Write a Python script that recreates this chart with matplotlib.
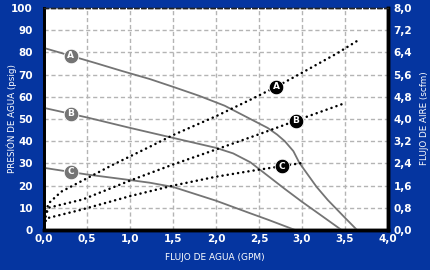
import matplotlib
matplotlib.use('Agg')
import matplotlib.pyplot as plt
import numpy as np

# ---- data ----
x_ticks = [0.0, 0.5, 1.0, 1.5, 2.0, 2.5, 3.0, 3.5, 4.0]
p_ticks = [0, 10, 20, 30, 40, 50, 60, 70, 80, 90, 100]
air_ticks = [0.0, 0.8, 1.6, 2.4, 3.2, 4.0, 4.8, 5.6, 6.4, 7.2, 8.0]

# water pressure (psig) vs water flow (GPM)
pA_x = [0.0, 0.3, 0.6, 0.9, 1.23, 1.5, 1.8, 2.1, 2.4, 2.6, 2.71, 2.8, 2.9, 2.97, 3.17, 3.3, 3.5, 3.64]
pA_y = [82, 78.6, 75.2, 71.7, 68, 64.5, 60.5, 56, 50, 46, 43, 40, 35.5, 30.2, 19.4, 13.5, 5.5, 0]
pB_x = [0.0, 0.5, 1.0, 1.5, 2.0, 2.2, 2.4, 2.6, 2.8, 3.0, 3.2, 3.46]
pB_y = [55, 50.7, 46, 41.5, 37, 34.5, 30.5, 24.5, 18.5, 12.7, 7.2, 0]
pC_x = [0.0, 0.5, 1.0, 1.23, 1.5, 2.0, 2.4, 2.6, 2.92]
pC_y = [28, 25, 22.5, 21.3, 19.4, 13.2, 7.5, 4.7, 0]

# air flow (scfm) vs water flow (GPM)
aA_x = [0.0, 0.05, 0.2, 0.46, 0.8, 1.23, 1.5, 2.0, 2.39, 2.7, 2.99, 3.41, 3.66]
aA_y = [0.3, 0.95, 1.38, 1.8, 2.35, 3.0, 3.42, 4.1, 4.68, 5.16, 5.65, 6.37, 6.85]
aB_x = [0.0, 0.05, 0.45, 1.0, 1.5, 2.0, 2.5, 3.0, 3.47]
aB_y = [0.3, 0.8, 1.1, 1.78, 2.36, 2.9, 3.45, 4.02, 4.54]
aC_x = [0.0, 0.03, 0.42, 1.0, 1.5, 2.0, 2.39, 2.99]
aC_y = [0.15, 0.42, 0.72, 1.22, 1.6, 1.92, 2.12, 2.41]

curve_names = ['A', 'B', 'C']
p_label_x = [0.31, 0.31, 0.31]
a_label_x = [2.70, 2.93, 2.77]

# ---- style ----
BLUE = '#0535a0'
GRAY = '#747474'
FONT = ['Liberation Sans Narrow', 'DejaVu Sans']
plt.rcParams['font.family'] = FONT

fig = plt.figure(figsize=(4.31, 2.70), dpi=100, facecolor=BLUE)
ax = fig.add_axes([44/431, 40/270, 344/431, 222/270])
ax.set_facecolor('white')
ax.set_xlim(0, 4.0)
ax.set_ylim(0, 100)
ax2 = ax.twinx()
ax2.set_ylim(0, 8.0)

def fmt(v, d=1):
    return f"{v:.{d}f}".replace('.', ',')

ax.set_xticks(x_ticks)
ax.set_xticklabels([fmt(v) for v in x_ticks])
ax.set_yticks(p_ticks)
ax.set_yticklabels([str(v) for v in p_ticks])
ax2.set_yticks(air_ticks)
ax2.set_yticklabels([fmt(v) for v in air_ticks])

for a in (ax, ax2):
    a.tick_params(length=0, colors='white', labelsize=7.5)
    for lab in a.get_xticklabels() + a.get_yticklabels():
        lab.set_fontweight('bold')
ax.tick_params(axis='x', pad=3)
ax.tick_params(axis='y', pad=8)
ax2.tick_params(axis='y', pad=4)

ax.grid(True, color='#b4b4b4', linestyle=(0, (3, 2)), linewidth=1.0)
ax.set_axisbelow(True)

for a in (ax, ax2):
    a.spines['left'].set_linewidth(2.0)
    a.spines['left'].set_color('black')
    a.spines['bottom'].set_linewidth(2.5)
    a.spines['bottom'].set_color('black')
    a.spines['right'].set_linewidth(2.5)
    a.spines['right'].set_color('black')
    a.spines['top'].set_linewidth(1.0)
    a.spines['top'].set_color('#222222')
    a.spines['top'].set_linestyle((0, (3, 2)))

fig.text(215/431, 1 - 258/270, 'FLUJO DE AGUA (GPM)', color='white', fontsize=6.5,
         ha='center', va='center')
fig.text(12/431, 1 - 118/270, 'PRESIÓN DE AGUA (psig)', color='white', fontsize=6.3,
         ha='center', va='center', rotation=90)
fig.text(425/431, 1 - 118/270, 'FLUJO DE AIRE (scfm)', color='white', fontsize=6.3,
         ha='center', va='center', rotation=90)

# pressure curves
for xs, ys in [(pA_x, pA_y), (pB_x, pB_y), (pC_x, pC_y)]:
    ax.plot(xs, ys, color=GRAY, linewidth=1.3, solid_capstyle='butt', zorder=3)

# air flow dotted curves
for xs, ys in [(aA_x, aA_y), (aB_x, aB_y), (aC_x, aC_y)]:
    ax2.plot(xs, ys, color='black', linewidth=1.8, linestyle=(0, (0.05, 2.05)),
             dash_capstyle='round', zorder=3)

# labels on pressure curves
for name, lx, xs, ys in zip(curve_names, p_label_x, [pA_x, pB_x, pC_x], [pA_y, pB_y, pC_y]):
    ly = np.interp(lx, xs, ys)
    ax.plot([lx], [ly], 'o', ms=10.5, mfc=GRAY, mec='white', mew=0.6, zorder=5)
    ax.text(lx, ly, name, ha='center', va='center', color='white', fontsize=6.5,
            fontweight='bold', zorder=6)

for name, lx, xs, ys in zip(curve_names, a_label_x, [aA_x, aB_x, aC_x], [aA_y, aB_y, aC_y]):
    ly = np.interp(lx, xs, ys)
    ax2.plot([lx], [ly], 'o', ms=10.5, mfc='black', mec='white', mew=0.6, zorder=5)
    ax2.text(lx, ly, name, ha='center', va='center', color='white', fontsize=6.5,
             fontweight='bold', zorder=6)

fig.savefig('out.png', dpi=100, facecolor=BLUE)
